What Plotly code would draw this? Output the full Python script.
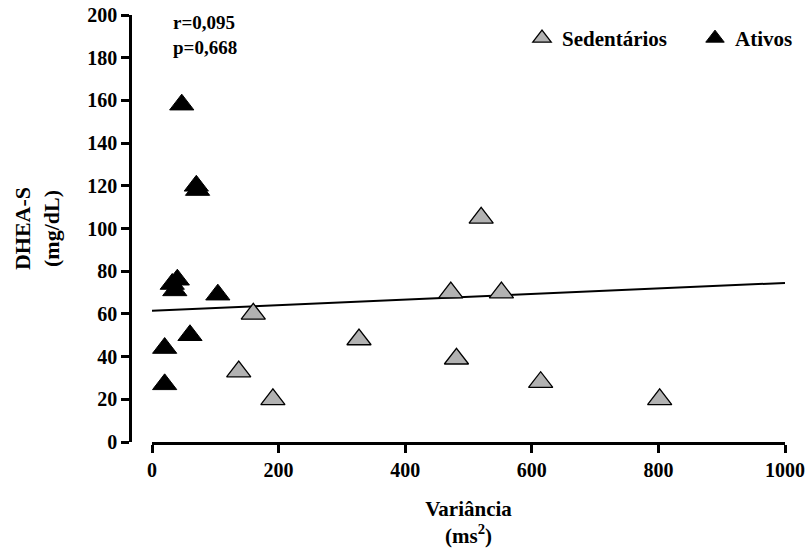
import plotly.graph_objects as go

sed_x = [160, 137, 191, 327, 472, 481, 520, 552, 614, 802]
sed_y = [60, 33, 20, 48, 70, 39, 105, 70, 28, 20]

at_x = [47, 70, 72, 40, 32, 36, 104, 60, 20, 20]
at_y = [158, 120, 118, 76, 74, 71, 69, 50, 44, 27]

line_x = [0, 1000]
line_y = [61.5, 74.5]

x_ticks = [0, 200, 400, 600, 800, 1000]
y_ticks = list(range(0, 201, 20))

FONT = "Liberation Serif"
W, H = 811, 550
ml, mr, mt, mb = 122, 26, 15, 108
pw = W - ml - mr
ph = H - mt - mb
x0 = (152 - ml) / pw
yax = (130 - ml) / pw

fig = go.Figure()
fig.add_trace(go.Scatter(x=line_x, y=line_y, mode="lines",
                         line=dict(color="black", width=2), showlegend=False,
                         cliponaxis=False, hoverinfo="skip"))
fig.add_trace(go.Scatter(x=sed_x, y=sed_y, mode="markers", name="<b>Sedentários</b>",
                         marker=dict(symbol="triangle-up", size=21, color="#b2b2b2",
                                     line=dict(color="black", width=1.3)),
                         cliponaxis=False))
fig.add_trace(go.Scatter(x=at_x, y=at_y, mode="markers", name="<b>Ativos</b>",
                         marker=dict(symbol="triangle-up", size=21, color="black",
                                     line=dict(color="black", width=1)),
                         cliponaxis=False))

fig.add_annotation(x=(171 - ml) / pw, y=1 - (10 - mt) / ph,
                   xref="paper", yref="paper", showarrow=False,
                   text="<b>r=0,095<br>p=0,668</b>", align="left",
                   xanchor="left", yanchor="top",
                   font=dict(family=FONT, size=19, color="black"))

fig.update_layout(
    width=W, height=H,
    margin=dict(l=ml, r=mr, t=mt, b=mb, autoexpand=False),
    plot_bgcolor="white", paper_bgcolor="white",
    font=dict(family=FONT, size=20, color="black"),
    xaxis=dict(domain=[x0, 1], range=[0, 1000], tickvals=x_ticks,
               ticktext=[f"<b>{v}</b>" for v in x_ticks],
               showline=True, linecolor="black", linewidth=2.5,
               ticks="outside", ticklen=8, tickwidth=2.5, tickcolor="black",
               showgrid=False, zeroline=False, anchor="y", automargin=False,
               title=dict(text="<b>Variância<br>(ms<sup>2</sup>)</b>",
                          font=dict(family=FONT, size=21), standoff=22)),
    yaxis=dict(range=[0, 200], tickvals=y_ticks,
               ticktext=[f"<b>{v}</b>" for v in y_ticks],
               anchor="free", position=yax, automargin=False,
               showline=True, linecolor="black", linewidth=2.5,
               ticks="outside", ticklen=8, tickwidth=2.5, tickcolor="black",
               showgrid=False, zeroline=False,
               title=dict(text="<b>DHEA-S<br>(mg/dL)</b>",
                          font=dict(family=FONT, size=22), standoff=20)),
    legend=dict(orientation="h", x=(522 - ml) / pw, xanchor="left",
                y=1 - (18 - mt) / ph, yanchor="top",
                font=dict(family=FONT, size=21), bgcolor="rgba(0,0,0,0)",
                itemsizing="trace", entrywidth=128),
)

fig.write_html("out.html", post_script="document.body.style.margin='0';",
               config={"displayModeBar": False})
